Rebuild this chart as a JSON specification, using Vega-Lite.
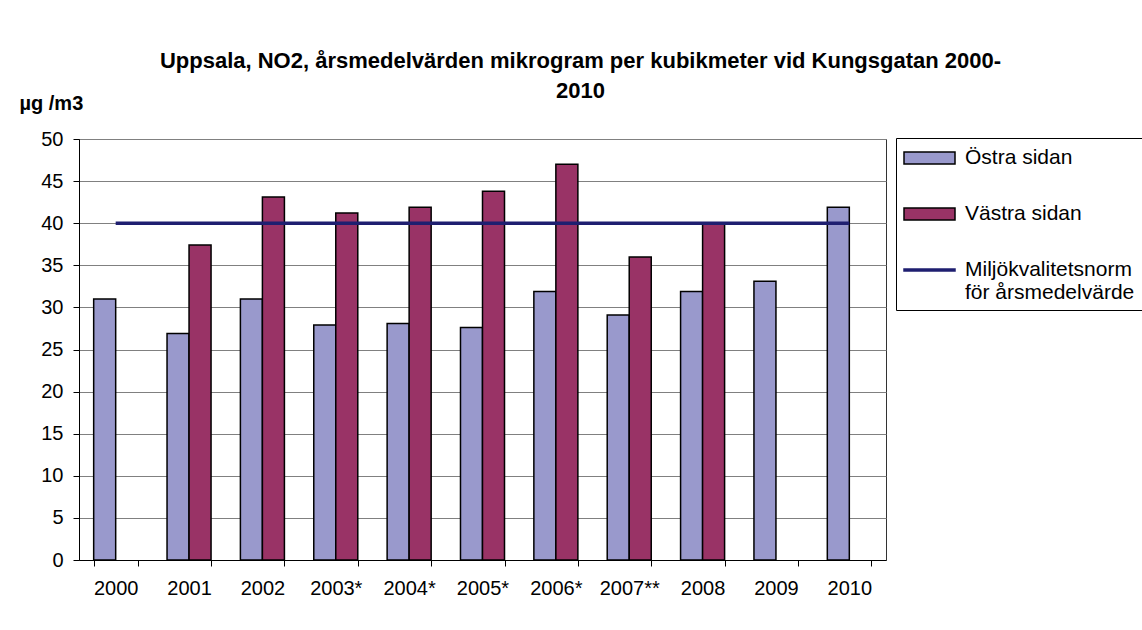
{
  "$schema": "https://vega.github.io/schema/vega-lite/v6.json",
  "width": 807,
  "height": 421,
  "autosize": {"type": "none"},
  "padding": {"left": 79, "top": 139, "right": 256, "bottom": 70},
  "background": "white",
  "config": {
    "font": "Liberation Sans",
    "view": {"stroke": "#333333", "strokeWidth": 1}
  },
  "title": {
    "text": ["Uppsala, NO2, årsmedelvärden mikrogram per kubikmeter vid Kungsgatan 2000-", "2010"],
    "font": "Liberation Sans",
    "fontSize": 22,
    "fontWeight": "bold",
    "color": "black",
    "anchor": "middle",
    "frame": "group",
    "dx": 98,
    "lineHeight": 30,
    "offset": -10
  },
  "datasets": {
    "bars": [
      {"year": "2000", "series": "Östra sidan", "value": 31},
      {"year": "2001", "series": "Östra sidan", "value": 26.9},
      {"year": "2001", "series": "Västra sidan", "value": 37.4},
      {"year": "2002", "series": "Östra sidan", "value": 31},
      {"year": "2002", "series": "Västra sidan", "value": 43.1},
      {"year": "2003*", "series": "Östra sidan", "value": 27.9},
      {"year": "2003*", "series": "Västra sidan", "value": 41.2},
      {"year": "2004*", "series": "Östra sidan", "value": 28.1},
      {"year": "2004*", "series": "Västra sidan", "value": 41.9},
      {"year": "2005*", "series": "Östra sidan", "value": 27.6},
      {"year": "2005*", "series": "Västra sidan", "value": 43.8},
      {"year": "2006*", "series": "Östra sidan", "value": 31.9},
      {"year": "2006*", "series": "Västra sidan", "value": 47},
      {"year": "2007**", "series": "Östra sidan", "value": 29.1},
      {"year": "2007**", "series": "Västra sidan", "value": 36},
      {"year": "2008", "series": "Östra sidan", "value": 31.9},
      {"year": "2008", "series": "Västra sidan", "value": 40},
      {"year": "2009", "series": "Östra sidan", "value": 33.1},
      {"year": "2010", "series": "Östra sidan", "value": 41.9}
    ],
    "norm": [
      {"year": "2000", "series": "Miljökvalitetsnorm för årsmedelvärde", "norm": 40},
      {"year": "2001", "series": "Miljökvalitetsnorm för årsmedelvärde", "norm": 40},
      {"year": "2002", "series": "Miljökvalitetsnorm för årsmedelvärde", "norm": 40},
      {"year": "2003*", "series": "Miljökvalitetsnorm för årsmedelvärde", "norm": 40},
      {"year": "2004*", "series": "Miljökvalitetsnorm för årsmedelvärde", "norm": 40},
      {"year": "2005*", "series": "Miljökvalitetsnorm för årsmedelvärde", "norm": 40},
      {"year": "2006*", "series": "Miljökvalitetsnorm för årsmedelvärde", "norm": 40},
      {"year": "2007**", "series": "Miljökvalitetsnorm för årsmedelvärde", "norm": 40},
      {"year": "2008", "series": "Miljökvalitetsnorm för årsmedelvärde", "norm": 40},
      {"year": "2009", "series": "Miljökvalitetsnorm för årsmedelvärde", "norm": 40},
      {"year": "2010", "series": "Miljökvalitetsnorm för årsmedelvärde", "norm": 40}
    ]
  },
  "layer": [
    {
      "data": {"name": "bars"},
      "mark": {"type": "bar", "stroke": "black", "strokeWidth": 1.5},
      "encoding": {
        "x": {
          "field": "year",
          "type": "nominal",
          "sort": null,
          "scale": {
            "domain": ["2000", "2001", "2002", "2003*", "2004*", "2005*", "2006*", "2007**", "2008", "2009", "2010"],
            "paddingInner": 0.4,
            "paddingOuter": 0.2
          },
          "axis": {
            "title": null,
            "labelAngle": 0,
            "tickBand": "extent",
            "tickSize": 6,
            "tickColor": "black",
            "domainColor": "black",
            "labelFontSize": 20,
            "labelPadding": 12,
            "labelColor": "black",
            "grid": false
          }
        },
        "xOffset": {
          "field": "series",
          "type": "nominal",
          "scale": {"domain": ["Östra sidan", "Västra sidan"], "paddingInner": 0, "paddingOuter": 0}
        },
        "y": {
          "field": "value",
          "type": "quantitative",
          "scale": {"domain": [0, 50], "nice": false},
          "axis": {
            "values": [0, 5, 10, 15, 20, 25, 30, 35, 40, 45, 50],
            "grid": true,
            "gridColor": "#808080",
            "tickColor": "black",
            "tickSize": 6,
            "domainColor": "black",
            "labelFontSize": 20,
            "labelPadding": 10,
            "labelColor": "black",
            "title": "µg /m3",
            "titleAngle": 0,
            "titleAlign": "left",
            "titleBaseline": "middle",
            "titleX": -60,
            "titleY": -36,
            "titleFontSize": 20,
            "titleFontWeight": "bold",
            "titleColor": "black"
          }
        },
        "color": {
          "field": "series",
          "type": "nominal",
          "scale": {
            "domain": ["Miljökvalitetsnorm för årsmedelvärde", "Östra sidan", "Västra sidan"],
            "range": ["#1F1F70", "#9999CC", "#993366"]
          },
          "legend": null
        }
      }
    },
    {
      "data": {"name": "norm"},
      "mark": {"type": "line", "strokeWidth": 3.5},
      "encoding": {
        "x": {"field": "year", "type": "nominal", "sort": null},
        "y": {"field": "norm", "type": "quantitative"},
        "color": {"field": "series", "type": "nominal", "legend": null}
      }
    },
    {
      "data": {"name": "bars"},
      "mark": {"type": "point", "filled": true, "opacity": 0},
      "encoding": {
        "x": {"field": "year", "type": "nominal", "sort": null},
        "y": {"field": "value", "type": "quantitative"},
        "fill": {
          "field": "series",
          "type": "nominal",
          "scale": {
            "domain": ["Östra sidan", "Västra sidan", "Miljökvalitetsnorm för årsmedelvärde"],
            "range": ["#9999CC", "#993366", "#1F1F70"]
          },
          "legend": {
            "title": null,
            "orient": "none",
            "legendX": 817,
            "legendY": -1,
            "strokeColor": "black",
            "fillColor": "white",
            "padding": 7,
            "symbolSize": 576,
            "symbolOpacity": 1,
            "symbolStrokeWidth": 1.5,
            "labelFontSize": 21,
            "labelColor": "black",
            "labelOffset": 36,
            "labelLimit": 400,
            "rowPadding": 33,
            "labelExpr": "datum.value === 'Miljökvalitetsnorm för årsmedelvärde' ? ['Miljökvalitetsnorm', 'för årsmedelvärde'] : datum.label"
          }
        },
        "stroke": {
          "field": "series",
          "type": "nominal",
          "scale": {
            "domain": ["Östra sidan", "Västra sidan", "Miljökvalitetsnorm för årsmedelvärde"],
            "range": ["black", "black", "#1F1F70"]
          },
          "legend": {"symbolFillColor": "white"}
        },
        "shape": {
          "field": "series",
          "type": "nominal",
          "scale": {
            "domain": ["Östra sidan", "Västra sidan", "Miljökvalitetsnorm för årsmedelvärde"],
            "range": ["M-1,-0.5H3.25V0.5H-1Z", "M-1,-0.5H3.25V0.5H-1Z", "M-1,-0.09H3.25V0.09H-1Z"]
          },
          "legend": {"symbolFillColor": "white"}
        }
      }
    }
  ]
}
